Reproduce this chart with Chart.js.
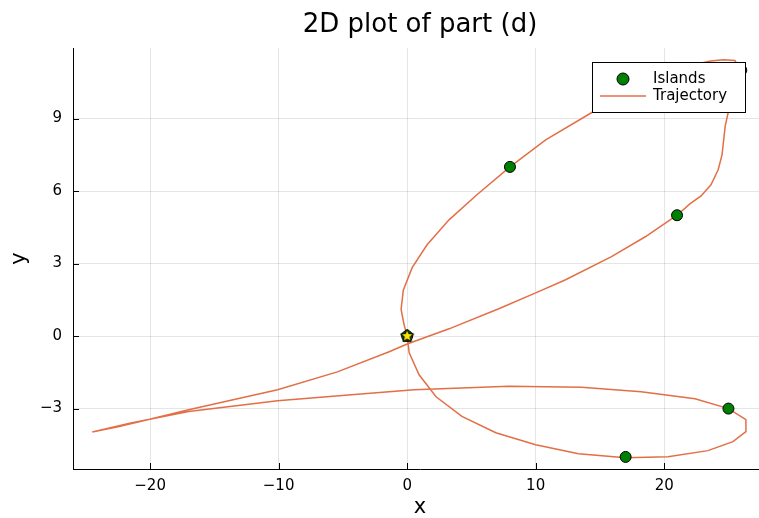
<!DOCTYPE html>
<html>
<head>
<meta charset="utf-8">
<script src="https://cdn.jsdelivr.net/npm/chart.js@4.4.1/dist/chart.umd.min.js"></script>
<style>
  html, body { margin: 0; padding: 0; overflow: hidden; background: #fff; }
  #wrap { width: 775px; height: 518px; }
</style>
</head>
<body>
<div id="wrap"><canvas id="plot" width="775" height="518"></canvas></div>
<script>
// tick positions
const xTicks = [-20, -10, 0, 10, 20];
const yTicks = [-3, 0, 3, 6, 9];

// islands
const islandX = [0, 8, 21, 26, 25, 17];
const islandY = [0, 7, 5, 11, -3, -5];

// start point (star)
const startX = [0];
const startY = [0];

// trajectory
const trajX = [0, -0.25, -0.47, -0.3, 0.39, 1.55, 3.26, 5.43, 8.0, 10.78, 14.34, 16.6, 18.7, 20.7, 22.5, 23.6, 24.6, 25.5, 26.0, 25.5,
  25.0, 24.75, 24.5, 24.2, 23.64, 22.87, 22.0, 21.0, 18.53, 15.9, 12.33, 10.0, 7.13, 3.26, 0.0, -1.4, -5.43, -10.08, -17.0, -20.2,
  -22.5, -24.5, -21.5, -17.0, -10.08, -4.34, 0.54, 7.9, 13.57, 18.2, 22.4, 25.0, 26.36, 26.36, 25.35, 23.4, 20.3, 17.0, 13.33, 10.0,
  6.9, 4.26, 2.25, 0.93, 0.16, 0];
const trajY = [0, 0.5, 1.1, 1.9, 2.83, 3.78, 4.81, 5.85, 7.0, 8.12, 9.24, 9.95, 10.5, 10.95, 11.25, 11.38, 11.43, 11.4, 11.0, 10.3,
  9.3, 8.7, 7.5, 6.88, 6.26, 5.8, 5.47, 5.0, 4.11, 3.29, 2.33, 1.79, 1.13, 0.3, -0.33, -0.65, -1.48, -2.22, -3.05, -3.46,
  -3.75, -3.97, -3.6, -3.12, -2.68, -2.43, -2.22, -2.08, -2.12, -2.3, -2.59, -3.0, -3.46, -3.95, -4.37, -4.74, -4.99, -5.03, -4.87, -4.5,
  -4.0, -3.32, -2.51, -1.6, -0.69, 0];

const lineColor = '#e26f46';
const islandColor = '#008000';
const font = '"DejaVu Sans", sans-serif';

const minus = v => (v < 0 ? '\u2212' + Math.abs(v) : String(v));
const pts = (xs, ys) => xs.map((x, i) => ({ x, y: ys[i] }));

// small yellow star with a thick black outline
const star = document.createElement('canvas');
star.width = 20; star.height = 20;
(() => {
  const c = star.getContext('2d');
  c.beginPath();
  for (let i = 0; i < 10; i++) {
    const r = i % 2 ? 2.4 : 5.4;
    const a = -Math.PI / 2 + i * Math.PI / 5;
    c.lineTo(10 + r * Math.cos(a), 10 + r * Math.sin(a));
  }
  c.closePath();
  c.lineWidth = 3.2;
  c.lineJoin = 'round';
  c.strokeStyle = '#0a1a05';
  c.stroke();
  c.fillStyle = '#ffe600';
  c.fill();
})();

// inward ticks, title and legend box
const extras = {
  id: 'extras',
  afterDraw(chart) {
    const { ctx, chartArea: a, scales } = chart;
    ctx.save();
    ctx.strokeStyle = '#000';
    ctx.lineWidth = 1;
    ctx.beginPath();
    xTicks.forEach(v => {
      const px = Math.round(scales.x.getPixelForValue(v)) + 0.5;
      ctx.moveTo(px, a.bottom);
      ctx.lineTo(px, a.bottom - 6);
    });
    yTicks.forEach(v => {
      const py = Math.round(scales.y.getPixelForValue(v)) + 0.5;
      ctx.moveTo(a.left, py);
      ctx.lineTo(a.left + 6, py);
    });
    ctx.stroke();

    ctx.fillStyle = '#000';
    ctx.font = '26px ' + font;
    ctx.textAlign = 'center';
    ctx.textBaseline = 'alphabetic';
    ctx.fillText('2D plot of part (d)', (a.left + a.right) / 2, 32);

    // legend
    const w = 153, h = 50;
    const lx = a.right - 22 - w, ly = a.top + 14;
    ctx.fillStyle = '#fff';
    ctx.fillRect(lx, ly, w, h);
    ctx.strokeRect(lx + 0.5, ly + 0.5, w, h);

    ctx.beginPath();
    ctx.arc(lx + 31, ly + 17, 6, 0, Math.PI * 2);
    ctx.fillStyle = islandColor;
    ctx.fill();
    ctx.stroke();

    ctx.beginPath();
    ctx.moveTo(lx + 8, ly + 34);
    ctx.lineTo(lx + 54, ly + 34);
    ctx.strokeStyle = lineColor;
    ctx.lineWidth = 1.5;
    ctx.stroke();

    ctx.fillStyle = '#000';
    ctx.font = '15px ' + font;
    ctx.textAlign = 'left';
    ctx.textBaseline = 'middle';
    ctx.fillText('Islands', lx + 61, ly + 17);
    ctx.fillText('Trajectory', lx + 61, ly + 34);
    ctx.restore();
  }
};

const tickFont = { family: font, size: 15 };
const gridStyle = { color: 'rgba(0,0,0,0.1)', lineWidth: 1, drawTicks: false };

new Chart(document.getElementById('plot'), {
  type: 'scatter',
  data: {
    datasets: [
      {
        label: 'start',
        data: pts(startX, startY),
        pointStyle: star,
        pointRadius: 7
      },
      {
        label: 'Islands',
        data: pts(islandX, islandY),
        pointRadius: 5.5,
        backgroundColor: islandColor,
        borderColor: '#000',
        borderWidth: 1
      },
      {
        label: 'Trajectory',
        data: pts(trajX, trajY),
        showLine: true,
        pointRadius: 0,
        borderColor: lineColor,
        borderWidth: 1.5,
        tension: 0
      }
    ]
  },
  options: {
    responsive: false,
    animation: false,
    devicePixelRatio: 1,
    layout: { padding: { top: 48, right: 4, left: 0, bottom: 0 } },
    plugins: {
      legend: { display: false },
      tooltip: { enabled: false },
      title: { display: false }
    },
    scales: {
      x: {
        type: 'linear',
        min: -26,
        max: 28,
        afterBuildTicks: s => { s.ticks = xTicks.map(v => ({ value: v })); },
        afterFit: s => { s.height = 49; },
        grid: gridStyle,
        border: { color: '#000', width: 1 },
        ticks: { padding: 8, color: '#000', font: tickFont, maxRotation: 0, autoSkip: false, callback: v => minus(v) },
        title: { display: true, text: 'x', color: '#000', font: { family: font, size: 21, lineHeight: 1 }, padding: { top: 0, bottom: 0 } }
      },
      y: {
        type: 'linear',
        min: -5.5,
        max: 11.92,
        afterBuildTicks: s => { s.ticks = yTicks.map(v => ({ value: v })); },
        afterFit: s => { s.width = 73; },
        grid: gridStyle,
        border: { color: '#000', width: 1 },
        ticks: { padding: 11, color: '#000', font: tickFont, autoSkip: false, callback: v => minus(v) },
        title: { display: true, text: 'y', color: '#000', font: { family: font, size: 21, lineHeight: 1.2 }, padding: { top: 7, bottom: 0 } }
      }
    }
  },
  plugins: [extras]
});
</script>
</body>
</html>
